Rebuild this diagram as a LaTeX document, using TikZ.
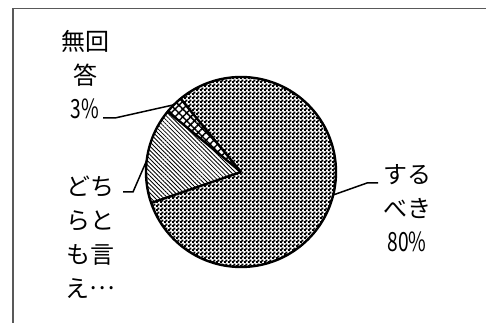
\documentclass[tikz,border=0pt]{standalone}
\usepackage{fontspec}
\setmainfont{Noto Sans CJK JP}
\usetikzlibrary{patterns,patterns.meta,calc}
\newcommand\narrowdig[1]{\scalebox{0.8}[1.1]{#1}}
\tikzdeclarepattern{
  name=finecheck,
  type=uncolored,
  bottom left={(0pt,0pt)},
  top right={(4pt,4pt)},
  tile size={(4pt,4pt)},
  code={\fill (-0.35pt,-0.35pt) rectangle (2.4pt,2.4pt); \fill (1.65pt,1.65pt) rectangle (4.35pt,4.35pt);}
}
\begin{document}
\begin{tikzpicture}[x=1pt,y=1pt,
  lbl/.style={font=\fontsize{24}{34}\selectfont, align=center, inner sep=0pt},
  leader/.style={line width=1.5pt, black},
  pieedge/.style={line width=2.4pt, black, line join=round},
  frame/.style={black!65, line width=1.3pt}]
\useasboundingbox (0,0) rectangle (486,323);
\draw[frame] (13,-5) |- (500,314.5);
\coordinate (O) at (241,151);
% slices
\fill[pattern=finecheck, pattern color=black] (O) -- ++(199:95) arc[start angle=199,end angle=489.5,radius=95] -- cycle;
\fill[pattern={Lines[angle=-45,distance=3pt,line width=0.85pt]}] (O) -- ++(140.5:95) arc[start angle=140.5,end angle=199,radius=95] -- cycle;
\fill[pattern={Lines[angle=45,distance=5.5pt,line width=1.5pt]}] (O) -- ++(129.5:95) arc[start angle=129.5,end angle=140.5,radius=95] -- cycle;
\fill[pattern={Lines[angle=-45,distance=5.5pt,line width=1.5pt]}] (O) -- ++(129.5:95) arc[start angle=129.5,end angle=140.5,radius=95] -- cycle;
\draw[pieedge] (O) circle[radius=95];
\draw[pieedge] (O) -- ++(129.5:95);
\draw[pieedge] (O) -- ++(140.5:95);
\draw[pieedge] (O) -- ++(199:95);
% labels
\node[lbl] (mukaito) at (85,248) {無回\\答\\\narrowdig{3\%}};
\node[lbl] (dochira) at (90,86) {どち\\らと\\も言\\え\raisebox{0.33em}{…}};
\node[lbl] (surubeki) at (407,115) {する\\べき\\\narrowdig{80\%}};
% leaders
\coordinate (m1) at (103,205); \coordinate (m2) at (115,205);
\coordinate (m3) at ($(O)+(135:95)$);
\draw[leader] (m1) -- (m2) -- (m3);
\coordinate (d1) at (123,131); \coordinate (d2) at (133,131);
\coordinate (d3) at ($(O)+(173:95)$);
\draw[leader] (d1) -- (d2) -- (d3);
\coordinate (s1) at (378,140); \coordinate (s2) at (367,140);
\coordinate (s3) at ($(O)+(-14:95)$);
\draw[leader] (s1) -- (s2) -- (s3);
\end{tikzpicture}
\end{document}
